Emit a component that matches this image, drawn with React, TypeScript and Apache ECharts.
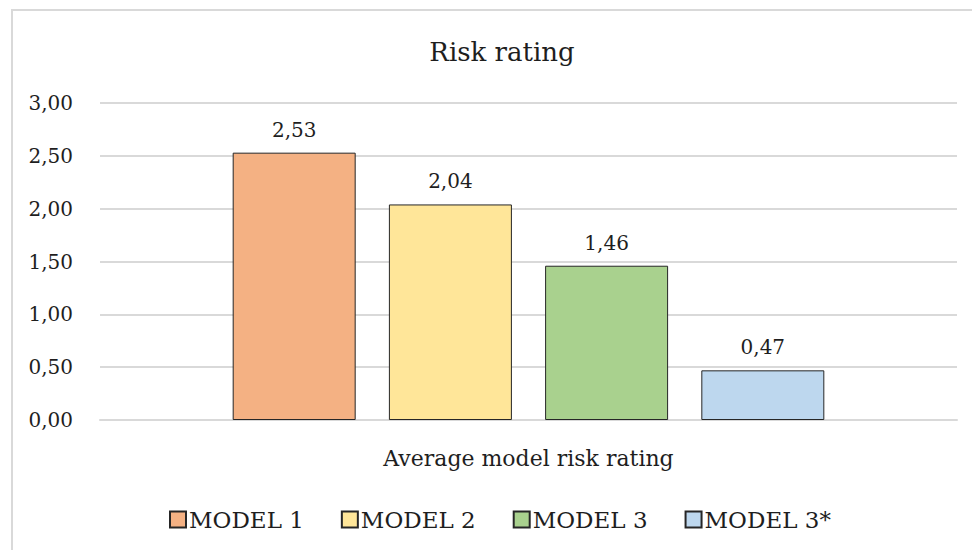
import React, { useEffect, useRef } from "react";
import * as echarts from "echarts";

const categories = ["Average model risk rating"];
const seriesNames = ["MODEL 1", "MODEL 2", "MODEL 3", "MODEL 3*"];
const seriesValues = [[2.53], [2.04], [1.46], [0.47]];
const seriesColors = ["#F4B183", "#FFE699", "#A9D18E", "#BDD7EE"];
const yTicks = { min: 0, max: 3, interval: 0.5 };
const titleText = "Risk rating";

const FONT = "DejaVu Serif";
const TXT = "#1e1e1e";
const fmt = (v: number) => v.toFixed(2).replace(".", ",");

export default function App() {
  const ref = useRef<HTMLDivElement>(null);
  useEffect(() => {
    if (!ref.current) return;
    const chart = echarts.init(ref.current, undefined, { renderer: "svg" });
    chart.setOption({
      animation: false,
      backgroundColor: "#ffffff",
      textStyle: { fontFamily: FONT, color: TXT },
      title: {
        text: titleText,
        left: 497,
        top: 34,
        textAlign: "center",
        textStyle: { fontFamily: FONT, fontSize: 26, fontWeight: "normal", color: TXT },
      },
      graphic: [
        {
          type: "rect",
          shape: { x: 12, y: 10, width: 980, height: 560 },
          style: { fill: "none", stroke: "#d9d9d9", lineWidth: 2 },
          silent: true,
          z: -1,
        },
      ],
      legend: {
        data: seriesNames,
        left: 164,
        top: 503,
        itemWidth: 16,
        itemHeight: 16,
        itemGap: 37,
        icon: "rect",
        textStyle: { fontFamily: FONT, fontSize: 23, color: TXT, padding: [0, 0, 0, -2] },
      },
      grid: { left: 100, right: 15, top: 103, bottom: 130, containLabel: false },
      xAxis: {
        type: "category",
        data: categories,
        axisLine: { show: true, lineStyle: { color: "#d9d9d9", width: 2 } },
        axisTick: { show: false },
        axisLabel: { fontFamily: FONT, fontSize: 22, color: TXT, margin: 27 },
      },
      yAxis: {
        type: "value",
        min: yTicks.min,
        max: yTicks.max,
        interval: yTicks.interval,
        axisLine: { show: false },
        axisTick: { show: false },
        splitLine: { lineStyle: { color: "#d9d9d9", width: 2 } },
        axisLabel: {
          fontFamily: FONT,
          fontSize: 20,
          color: TXT,
          margin: 27,
          formatter: (v: number) => fmt(v),
        },
      },
      series: seriesNames.map((name, i) => ({
        name,
        type: "bar",
        data: seriesValues[i],
        barWidth: 123,
        barGap: "27%",
        itemStyle: { color: seriesColors[i], borderColor: "#262626", borderWidth: 1 },
        label: {
          show: true,
          position: "top",
          distance: 13,
          fontFamily: FONT,
          fontSize: 20,
          color: TXT,
          formatter: (p: any) => fmt(p.value),
        },
      })),
    });
    return () => chart.dispose();
  }, []);
  return (
    <div
      ref={ref}
      style={{ position: "fixed", left: 0, top: 0, width: 972, height: 550 }}
    />
  );
}
